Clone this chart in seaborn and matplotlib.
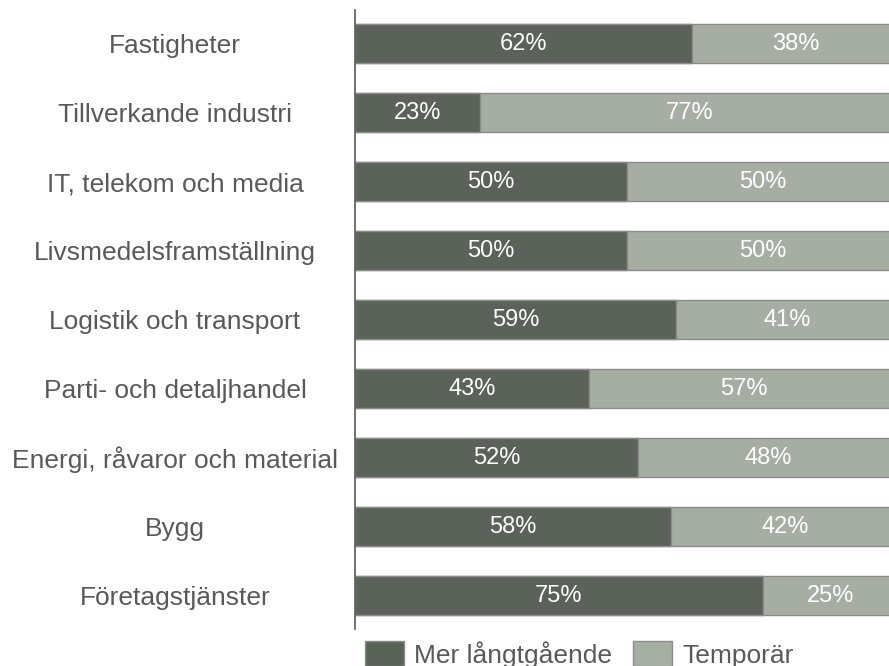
import pandas as pd
import matplotlib.pyplot as plt
import seaborn as sns
from matplotlib.patches import Patch

# values
branscher = [
    'Fastigheter',
    'Tillverkande industri',
    'IT, telekom och media',
    'Livsmedelsframställning',
    'Logistik och transport',
    'Parti- och detaljhandel',
    'Energi, råvaror och material',
    'Bygg',
    'Företagstjänster',
]
mer_langtgaende = [62, 23, 50, 50, 59, 43, 52, 58, 75]
temporar = [38, 77, 50, 50, 41, 57, 48, 42, 25]

dark = '#5a6358'
light = '#a5afa3'
text_grey = '#595959'

df = pd.DataFrame({
    'bransch': branscher,
    'mer': mer_langtgaende,
    'temp': temporar,
})
df['total'] = df['mer'] + df['temp']

sns.set_style('white')
plt.rcParams['font.family'] = ['Liberation Sans', 'DejaVu Sans']

fig = plt.figure(figsize=(8.89, 6.66), dpi=100)
ax = fig.add_axes([355 / 889, 37 / 666, 544 / 889, 619 / 666])

# light bar = whole row, dark bar drawn on top of it
sns.barplot(data=df, x='total', y='bransch', orient='h', color=light,
            width=0.56, edgecolor='#8c8c8c', linewidth=1, ax=ax)
sns.barplot(data=df, x='mer', y='bransch', orient='h', color=dark,
            width=0.56, edgecolor='#8c8c8c', linewidth=1, ax=ax)

# percentage labels in the middle of each segment
for i, (m, t) in enumerate(zip(df['mer'], df['temp'])):
    ax.text(m / 2, i, f'{m}%', ha='center', va='center', color='white', fontsize=17)
    ax.text(m + t / 2, i, f'{t}%', ha='center', va='center', color='white', fontsize=17)

ax.set_xlim(0, 100)
ax.set_ylim(8.485, -0.488)
ax.set_xlabel('')
ax.set_ylabel('')
ax.set_xticks([])
for s in ['top', 'right', 'bottom']:
    ax.spines[s].set_visible(False)
ax.spines['left'].set_color(text_grey)
ax.spines['left'].set_linewidth(1.2)
ax.tick_params(axis='y', length=0, pad=129.6, labelsize=19, labelcolor=text_grey)
for lbl in ax.get_yticklabels():
    lbl.set_ha('center')

handles = [
    Patch(facecolor=dark, edgecolor='#8c8c8c', label='Mer långtgående'),
    Patch(facecolor=light, edgecolor='#8c8c8c', label='Temporär'),
]
leg = fig.legend(handles=handles, loc='upper left', bbox_to_anchor=(365 / 889, 1 - 641 / 666),
                 ncol=2, frameon=False, fontsize=19, handlelength=1.48, handleheight=1.1,
                 handletextpad=0.38, columnspacing=0.8, borderpad=0, borderaxespad=0)
for txt in leg.get_texts():
    txt.set_color(text_grey)

fig.savefig('out.png', dpi=100)
